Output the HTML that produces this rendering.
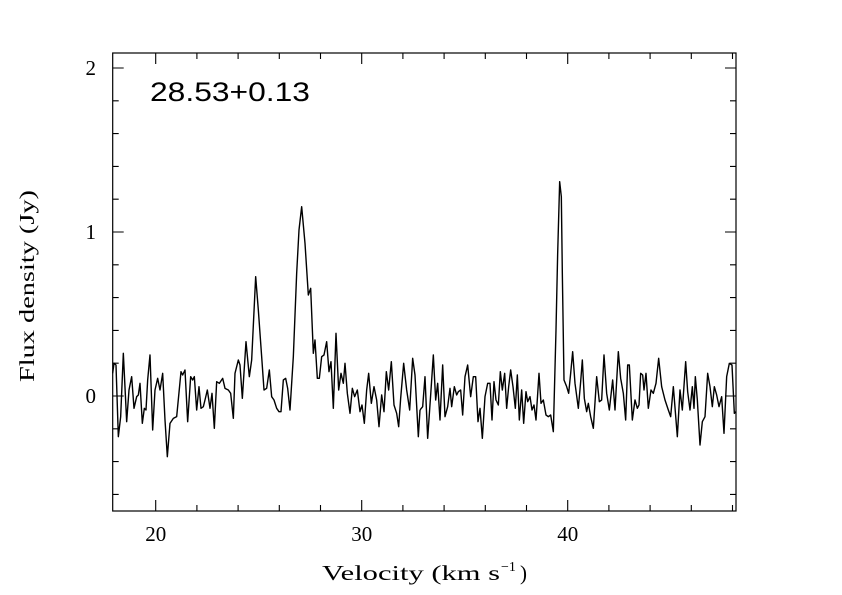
<!DOCTYPE html>
<html><head><meta charset="utf-8"><style>
html,body{margin:0;padding:0;background:#fff;}
svg{display:block;}
text{font-family:"Liberation Serif",serif;fill:#000;}
</style></head><body>
<svg width="842" height="595" viewBox="0 0 842 595" xmlns="http://www.w3.org/2000/svg">
<rect width="842" height="595" fill="#fff"/>
<rect x="112.7" y="53" width="623.3" height="458" fill="none" stroke="#000" stroke-width="1.2"/>
<path stroke="#000" stroke-width="1.1" fill="none" d="
M155.7,511v-11M155.7,53v11
M196.9,511v-6M196.9,53v6
M238.1,511v-6M238.1,53v6
M279.3,511v-6M279.3,53v6
M320.5,511v-6M320.5,53v6
M361.7,511v-11M361.7,53v11
M402.9,511v-6M402.9,53v6
M444.1,511v-6M444.1,53v6
M485.3,511v-6M485.3,53v6
M526.5,511v-6M526.5,53v6
M567.7,511v-11M567.7,53v11
M608.9,511v-6M608.9,53v6
M650.1,511v-6M650.1,53v6
M691.3,511v-6M691.3,53v6
M732.5,511v-6M732.5,53v6
M112.7,494.4h6M736,494.4h-6
M112.7,461.6h6M736,461.6h-6
M112.7,428.8h6M736,428.8h-6
M112.7,396h11M736,396h-11
M112.7,363.2h6M736,363.2h-6
M112.7,330.4h6M736,330.4h-6
M112.7,297.6h6M736,297.6h-6
M112.7,264.8h6M736,264.8h-6
M112.7,232h11M736,232h-11
M112.7,199.2h6M736,199.2h-6
M112.7,166.4h6M736,166.4h-6
M112.7,133.6h6M736,133.6h-6
M112.7,100.8h6M736,100.8h-6
M112.7,68h11M736,68h-11"/>
<g transform="translate(100,40) scale(0.33333)" fill="none" stroke="#000" stroke-width="1.4" stroke-linejoin="round">
<polyline vector-effect="non-scaling-stroke" points="38,1000 42,970 48,975 55,1190 62,1130 70,940 80,1145 87,1050 95,1010 102,1105 110,1070 115,1065 120,1030 127,1150 133,1105 138,1110 143,1020 150,945 158,1170 165,1050 173,1015 180,1050 188,1000 195,1140 202,1250 210,1150 220,1135 230,1130 243,995 248,1005 255,990 263,1145 272,1010 278,1020 283,1010 290,1110 297,1040 303,1105 310,1100 315,1080 322,1050 330,1105 336,1060 343,1165 350,1025 358,1030 368,1015 375,1045 385,1050 392,1060 400,1135 405,1000 415,960 420,975 427,1075 438,905 448,1010 455,960 467,710 475,810 485,950 492,1050 500,1045 508,990 515,1070 522,1080 530,1105 537,1115 543,1115 550,1020 557,1015 563,1045 570,1110 580,950 590,700 597,570 605,500 615,610 625,765 632,745 640,940 645,900 652,1015 658,1015 665,950 672,945 680,905 687,995 693,965 700,1105 708,880 716,1050 723,1000 730,1030 735,970 742,1060 750,1120 757,1045 764,1070 772,1050 780,1115 786,1095 793,1150 800,1050 806,1000 814,1090 822,1040 830,1080 837,1160 845,1065 852,1115 859,995 866,1050 874,965 882,1095 890,1120 896,1160 902,1075 911,970 920,1050 929,1110 938,955 945,1005 955,1190 960,1110"/>
</g>
<g transform="translate(420,40) scale(0.33333)" fill="none" stroke="#000" stroke-width="1.4" stroke-linejoin="round">
<polyline vector-effect="non-scaling-stroke" points="0,1110 8,1100 15,1010 23,1195 32,1065 40,945 47,1080 53,1030 60,1140 68,975 75,1130 83,1100 90,1045 95,1100 103,1040 110,1065 115,1055 122,1050 128,1125 135,1010 143,975 152,1070 160,1010 167,1010 174,1145 180,1105 187,1195 195,1070 203,1030 210,1030 216,1140 222,1025 228,1080 235,1095 241,995 247,1050 254,1000 260,1105 266,1040 272,990 279,1040 286,1105 292,1005 298,1140 305,1050 311,1150 318,1055 323,1085 330,1070 336,1110 342,1095 348,1140 357,1000 363,1090 370,1080 378,1125 385,1130 392,1125 400,1175 408,870 413,640 419,425 424,470 427,700 432,1020 440,1040 446,1060 452,1000 458,935 465,1030 475,1105 482,1025 487,960 493,1075 500,1115 505,1090 512,1130 520,1165 530,1010 538,1085 545,1080 552,945 560,1060 568,1110 578,1020 585,1110 595,935 602,1015 610,1060 617,1140 623,975 628,975 637,1140 645,1080 652,1105 657,1095 662,1000 668,1005 672,1050 678,1000 685,1105 693,1050 700,1060 708,1030 716,955 725,1040 735,1080 745,1110 752,1130 760,1040 772,1190 780,1050 787,1110 797,965 803,1055 810,1110 817,1040 822,1105 826,1010 832,1080 840,1215 847,1145 855,1130 863,1000 870,1040 877,1100 883,1040 890,1065 897,1100 905,1070 912,1180 920,1010 928,970 936,975 943,1120 948,1115"/>
</g>
<text x="150" y="101" style="font-family:'Liberation Sans',sans-serif" font-size="27" textLength="160" lengthAdjust="spacingAndGlyphs">28.53+0.13</text>
<g font-size="21" text-anchor="middle">
<text x="155.7" y="541">20</text>
<text x="361.7" y="541">30</text>
<text x="567.7" y="541">40</text>
</g>
<text x="322" y="580" font-size="21" textLength="178" lengthAdjust="spacingAndGlyphs">Velocity (km s</text>
<text x="501" y="571" font-size="14">−1</text>
<text x="520" y="580" font-size="21">)</text>
<g font-size="21" text-anchor="end">
<text x="96" y="75">2</text>
<text x="96" y="239">1</text>
<text x="96" y="403">0</text>
</g>
<text transform="translate(34,382) rotate(-90)" font-size="21" textLength="192" lengthAdjust="spacingAndGlyphs">Flux density (Jy)</text>
</svg>
</body></html>
